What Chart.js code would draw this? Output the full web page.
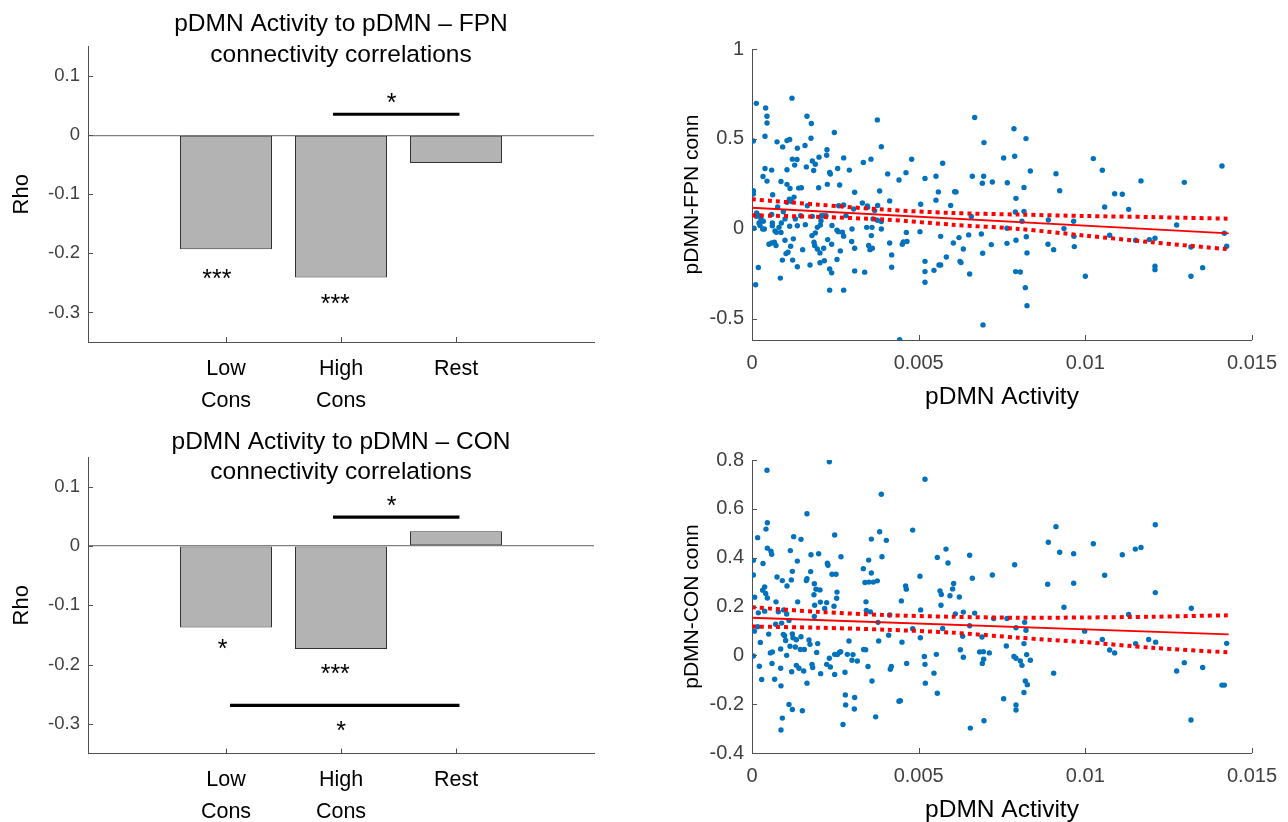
<!DOCTYPE html>
<html><head><meta charset="utf-8">
<script src="https://cdn.jsdelivr.net/npm/chart.js@4.4.1/dist/chart.umd.min.js"></script>
<style>
html,body{margin:0;padding:0;background:#fff}
body{width:1288px;height:822px;position:relative;overflow:hidden}
canvas{position:absolute;display:block}
</style></head><body>
<canvas id="c1" width="640" height="420" style="left:0;top:0"></canvas>
<canvas id="c2" width="648" height="420" style="left:640px;top:0"></canvas>
<canvas id="c3" width="640" height="414" style="left:0;top:420px"></canvas>
<canvas id="c4" width="648" height="410" style="left:640px;top:420px"></canvas>
<script>
// ---------------- DATA ----------------
const categories = [['Low','Cons'],['High','Cons'],['Rest']];
const rhoFPN = [-0.193, -0.241, -0.047];
const rhoCON = [-0.1374, -0.1737, 0.0246];
const barTicksY = [0.1, 0, -0.1, -0.2, -0.3];
const titleFPN = ['pDMN Activity to pDMN \u2013 FPN', 'connectivity correlations'];
const titleCON = ['pDMN Activity to pDMN \u2013 CON', 'connectivity correlations'];
// significance bars: [xStart, xEnd, y]
const sigFPN = [[1.93, 3.03, 0.0354]];
const sigCON = [[1.93, 3.03, 0.0486], [1.035, 3.03, -0.2687]];
// star labels: [x, y, text]
const starsFPN = [[0.92, -0.2326, '***'], [1.95, -0.2747, '***'], [2.44, 0.065, '*']];
const starsCON = [[0.97, -0.163, '*'], [1.95, -0.2056, '***'], [2.44, 0.078, '*'], [2.0, -0.3017, '*']];

const scatterTicksX = [0, 0.005, 0.01, 0.015];
const fpnTicksY = [1, 0.5, 0, -0.5];
const conTicksY = [0.8, 0.6, 0.4, 0.2, 0, -0.2, -0.4];

const fpnPoints = [
[0.00013,0.698],[0.0012,0.727],[0.00041,0.672],[0.00045,0.626],[0.00045,0.589],[0.00039,0.515],[0.00004,0.489],[0.00165,0.626],[0.00178,0.586],[0.00247,0.536],
[0.00075,0.484],[0.00105,0.491],[0.00113,0.497],[0.00092,0.456],[0.00136,0.449],[0.00159,0.464],[0.00177,0.504],[0.00225,0.44],[0.00224,0.41],[0.00201,0.399],
[0.00121,0.388],[0.00135,0.386],[0.00128,0.355],[0.00181,0.378],[0.0019,0.36],[0.00163,0.345],[0.00185,0.325],[0.00105,0.329],[0.00039,0.336],[0.00059,0.327],
[0.00033,0.292],[0.00045,0.266],[0.00087,0.264],[0.00105,0.248],[0.00114,0.225],[0.0014,0.227],[0.00148,0.229],[0.00126,0.177],[0.002,0.229],[0.00226,0.248],
[0.00233,0.314],[0.00235,0.305],[0.00257,0.336],[0.00275,0.395],[0.00292,0.327],[0.00263,0.244],[0.00004,0.212],[0.00004,0.194],[0.00334,0.37],[0.00357,0.388],
[0.00062,0.19],[0.00077,0.122],[0.00094,0.096],[0.00105,0.148],[0.00112,0.166],[0.00119,0.153],[0.00166,0.129],[0.00181,0.07],[0.00207,0.046],[0.00215,0.074],
[0.0026,0.129],[0.00275,0.133],[0.00305,0.111],[0.00347,0.12],[0.00013,0.07],
[0.00014,0.089],[0.00022,0.074],[0.00027,0.056],[0.00034,0.043],[0.00024,0.019],[0.00006,0.004],[0.00037,0.0],[0.00059,0.081],[0.00061,0.033],[0.00069,-0.011],
[0.00081,0.009],[0.00088,0.033],[0.00099,0.056],[0.00087,-0.019],[0.00113,0.015],[0.0013,0.056],[0.00146,0.074],[0.0016,0.024],[0.00196,0.009],[0.00208,0.074],
[0.00222,0.074],[0.0024,0.019],[0.00259,-0.015],[0.00282,0.074],
[0.00021,0.033],[0.00032,0.0],[0.00061,0.018],[0.00073,-0.018],[0.00136,0.018],[0.0018,-0.037],[0.0019,-0.022],[0.00205,0.022],[0.00255,-0.007],[0.00271,-0.018],
[0.00275,-0.04],[0.003,0.0],[0.00299,-0.07],[0.0035,-0.092],[0.00354,-0.115],[0.00051,-0.085],[0.00059,-0.078],[0.00067,-0.074],[0.00072,-0.092],[0.00099,-0.063],
[0.00108,-0.129],[0.00102,-0.137],[0.00116,-0.096],[0.00124,-0.055],[0.00091,-0.173],[0.00122,-0.173],[0.00136,-0.21],[0.00152,-0.115],[0.00174,-0.2],[0.00186,-0.074],
[0.00188,-0.092],[0.00196,-0.111],[0.00204,-0.133],[0.00204,-0.188],[0.00215,-0.107],[0.00217,-0.177],[0.00227,-0.059],[0.00239,-0.085],[0.00233,-0.222],[0.00239,-0.244],
[0.00255,-0.17],[0.00265,-0.122],[0.00308,-0.233],[0.00338,-0.24],[0.00019,-0.214],[0.00011,-0.31],[0.00085,-0.273],[0.00233,-0.34],[0.00275,-0.34],
[0.00376,0.606],[0.00388,0.457],[0.00407,0.306],[0.00441,0.272],[0.00462,0.313],[0.00479,0.387],[0.00383,0.211],[0.00413,0.156],[0.00346,0.128],[0.00368,0.102],
[0.00363,0.056],[0.0036,0.009],[0.00358,-0.037],[0.00388,0.041],[0.00388,0.0],[0.00413,-0.078],[0.00419,-0.144],[0.00419,-0.213],[0.00451,-0.085],[0.00454,-0.072],
[0.00465,-0.07],[0.00463,-0.019],[0.00504,-0.015],[0.00506,0.137],[0.00519,-0.18],[0.00519,-0.237],[0.00519,-0.296],[0.00519,0.281],[0.00546,-0.23],[0.00561,-0.2],
[0.00566,-0.2],[0.00566,-0.041],[0.00583,-0.156],[0.00596,0.131],[0.00604,-0.078],[0.00621,-0.048],[0.00624,-0.18],[0.00627,-0.187],[0.00634,-0.111],[0.00653,-0.25],
[0.0065,-0.033],[0.00658,0.069],[0.00668,0.619],[0.00661,0.293],[0.00695,0.293],[0.00691,0.254],[0.00696,0.48],[0.00692,-0.135],[0.00693,-0.533],[0.00688,-0.028],
[0.00718,-0.087],[0.00721,0.261],[0.00443,-0.615],[0.00552,0.293],[0.00559,0.206],[0.00572,0.365],[0.00608,0.207],[0.00612,0.206],[0.00308,0.204],[0.00331,0.144],
[0.00308,-0.107],[0.00344,0.009],[0.00361,-0.107],[0.00376,0.048],[0.00377,0.13],[0.00552,0.16],
[0.00786,0.557],[0.00822,0.502],[0.00755,0.394],[0.00788,0.404],[0.00835,0.322],[0.00766,0.257],[0.00816,0.231],[0.00792,0.17],[0.0079,0.094],[0.00816,0.098],
[0.0081,0.043],[0.00765,0.004],[0.00765,-0.08],[0.00792,-0.063],[0.00823,-0.043],[0.00825,-0.133],[0.00791,-0.237],[0.00805,-0.239],[0.0082,-0.326],[0.00825,-0.426],
[0.00912,0.307],[0.00923,0.213],[0.00889,0.05],[0.00936,0.002],[0.00888,-0.085],[0.00905,-0.115],[0.00965,0.043],[0.00966,-0.041],[0.00967,-0.098],[0.01,-0.263],
[0.01024,0.391],[0.01051,0.326],[0.01058,0.122],[0.01073,-0.035],[0.01088,0.196],[0.01111,0.193],[0.0113,0.109],[0.01151,-0.063],[0.01167,0.267],[0.01192,-0.059],
[0.01209,-0.052],[0.01209,-0.207],[0.01209,-0.226],[0.01274,0.022],[0.01297,0.259],[0.01317,-0.1],[0.01352,-0.215],[0.01317,-0.263],[0.0141,0.35],[0.01417,-0.024],[0.01424,-0.096]
];

const conPoints = [
[0.00232,0.793],[0.00045,0.758],[0.00519,0.721],[0.00388,0.66],[0.00165,0.58],[0.00046,0.543],[0.00042,0.517],[0.00017,0.482],[0.00248,0.493],[0.00482,0.513],
[0.00383,0.506],[0.00403,0.471],[0.00358,0.476],[0.00125,0.486],[0.00147,0.475],[0.00046,0.439],[0.00057,0.426],[0.00059,0.414],[0.00115,0.429],[0.00177,0.412],
[0.002,0.416],[0.00267,0.404],[0.0039,0.404],[0.00004,0.389],[0.00033,0.376],[0.00136,0.386],[0.00226,0.377],[0.00228,0.369],[0.0035,0.39],[0.00334,0.355],
[0.00358,0.337],[0.00121,0.344],[0.00176,0.343],[0.00004,0.329],[0.00075,0.321],[0.00091,0.306],[0.00118,0.309],[0.00163,0.306],[0.00165,0.314],[0.00105,0.284],
[0.0024,0.332],[0.00252,0.332],[0.00339,0.298],[0.00351,0.3],[0.00364,0.3],[0.00376,0.305],[0.00187,0.293],[0.00192,0.271],[0.00204,0.268],[0.00186,0.248],
[0.00032,0.267],[0.00038,0.28],[0.00041,0.253],[0.00046,0.235],[0.00008,0.238],[0.00072,0.219],[0.00137,0.219],[0.00188,0.205],[0.00205,0.218],[0.00224,0.216],
[0.00255,0.259],[0.00254,0.234],[0.00246,0.201],[0.00218,0.192],[0.00342,0.219],[0.00343,0.184],[0.00448,0.223],[0.00461,0.284],[0.00463,0.271],[0.00504,0.324],
[0.00556,0.401],[0.00588,0.378],[0.00582,0.435],[0.00653,0.41],[0.00661,0.316],[0.00721,0.329],[0.00564,0.264],[0.00568,0.249],[0.00594,0.244],[0.00605,0.294],
[0.00602,0.272],[0.00622,0.239],[0.00567,0.205],[0.00506,0.186],[0.0061,0.17],[0.00634,0.177],[0.00668,0.173],[0.00355,0.178],[0.00378,0.135],[0.00413,0.165],
[0.0041,0.082],[0.0038,0.059],[0.0045,0.054],[0.00482,0.109],[0.00505,0.072],[0.00517,-0.005],[0.00519,-0.037],[0.0052,-0.114],[0.00464,-0.033],[0.00546,-0.073],
[0.00553,0.004],[0.00556,-0.155],[0.00572,0.11],[0.00625,0.023],[0.00634,-0.008],[0.00632,0.078],[0.00653,0.121],[0.0069,0.075],[0.00683,0.014],[0.00694,0.015],
[0.00691,-0.033],[0.00695,-0.016],[0.00712,0.01],[0.00696,-0.268],[0.00655,-0.298],[0.00418,-0.046],[0.00415,-0.057],[0.00441,-0.188],[0.00445,-0.186],[0.00371,-0.252],
[0.0036,-0.105],[0.00348,-0.046],[0.00341,0.023],[0.00316,-0.023],[0.00303,0.003],[0.00291,0.059],[0.00308,-0.173],[0.00307,-0.22],[0.0028,-0.162],[0.00281,-0.203],
[0.00273,-0.283],[0.00279,-0.069],[0.00262,0.012],[0.00256,0.003],[0.00235,-0.048],[0.00232,-0.012],[0.00224,-0.037],[0.00206,-0.075],[0.00182,-0.05],[0.0018,-0.037],
[0.00174,0.045],[0.00171,0.063],[0.00165,-0.114],[0.00194,0.012],[0.00197,0.048],[0.00187,0.159],[0.00147,0.076],[0.00157,0.024],[0.00151,-0.227],[0.00121,-0.222],
[0.00111,-0.201],[0.00091,-0.257],[0.00087,-0.306],[0.00087,-0.125],[0.00068,-0.098],[0.00022,-0.045],[0.00029,-0.099],[0.0006,-0.033],[0.00055,0.01],[0.00061,0.014],
[0.00025,0.053],[0.00007,0.099],[0.00004,-0.003],[0.00017,0.117],[0.0005,0.087],[0.00071,0.127],[0.00089,0.132],[0.00094,0.086],[0.00101,0.061],[0.00086,0.026],
[0.00104,0.0],[0.00086,-0.053],[0.00119,-0.067],[0.00133,-0.041],[0.00141,-0.053],[0.00155,-0.064],[0.00121,0.088],[0.00123,0.072],[0.00133,0.064],[0.00114,0.037],
[0.00079,0.178],[0.00111,0.143],[0.00104,0.169],[0.00095,0.186],[0.00038,0.181],[0.00019,0.174],
[0.00098,0.08],[0.0013,0.034],[0.00145,0.024],[0.00266,0.015],[0.00248,0.004],[0.00286,0.004],[0.003,-0.02],[0.00335,0.024],[0.00248,-0.078],
[0.00912,0.527],[0.00889,0.463],[0.00923,0.422],[0.00965,0.416],[0.00788,0.371],[0.00887,0.291],[0.00965,0.295],[0.00936,0.197],[0.00725,0.151],[0.00765,0.151],
[0.00792,0.113],[0.00818,0.135],[0.00822,0.103],[0.00816,0.048],[0.00763,0.038],[0.00786,-0.005],[0.00792,-0.012],[0.00805,-0.023],[0.0081,-0.041],[0.00824,0.003],
[0.00835,-0.02],[0.00905,-0.073],[0.0082,-0.105],[0.00826,-0.12],[0.00816,-0.152],[0.00755,-0.178],[0.00792,-0.203],[0.00792,-0.224],[0.01024,0.457],[0.01058,0.328],
[0.00998,0.099],[0.01051,0.065],[0.01073,0.022],[0.01088,0.01],[0.01111,0.412],[0.0113,0.167],[0.0115,0.435],[0.01167,0.442],[0.01151,0.048],[0.0119,0.065],
[0.0121,0.535],[0.0121,0.257],[0.01211,0.054],[0.01274,-0.064],[0.01297,-0.03],[0.01318,0.193],[0.01317,-0.265],[0.01352,-0.05],[0.0141,-0.122],[0.01417,-0.122],[0.01424,0.049]
];

// regression fit line end points and confidence bands
const fitX = [0, 0.0143];
const fpnFitY = [0.118, -0.024];
const conFitY = [0.154, 0.086];
const ciX = [0, 0.002, 0.004, 0.006, 0.008, 0.010, 0.012, 0.0143];
const fpnCiUpper = [0.165, 0.135, 0.107, 0.089, 0.080, 0.072, 0.066, 0.057];
const fpnCiLower = [0.076, 0.067, 0.052, 0.024, 0.000, -0.037, -0.074, -0.113];
const conCiUpper = [0.197, 0.178, 0.165, 0.158, 0.154, 0.155, 0.158, 0.164];
const conCiLower = [0.118, 0.113, 0.105, 0.093, 0.072, 0.054, 0.031, 0.012];

// ---------------- STYLE ----------------
const FONT = '"Liberation Sans", Arial, Helvetica, sans-serif';
const AXIS = '#505050';
const TICKTXT = '#404040';
Chart.defaults.font.family = FONT;
Chart.defaults.animation = false;

function innerTicks(len) {
  return {
    id: 'innerTicks',
    afterDatasetsDraw(chart) {
      const {ctx, chartArea} = chart;
      const xs = chart.scales.x, ys = chart.scales.y;
      ctx.save();
      ctx.strokeStyle = AXIS; ctx.lineWidth = 1;
      ys.ticks.forEach(t => {
        const py = Math.round(ys.getPixelForValue(t.value)) + 0.5;
        ctx.beginPath(); ctx.moveTo(chartArea.left, py); ctx.lineTo(chartArea.left + len, py); ctx.stroke();
      });
      xs.ticks.forEach(t => {
        const px = Math.round(xs.getPixelForValue(t.value)) + 0.5;
        ctx.beginPath(); ctx.moveTo(px, chartArea.bottom); ctx.lineTo(px, chartArea.bottom - len); ctx.stroke();
      });
      ctx.restore();
    }
  };
}

function textLayer(titleLines, titleYs, titleSize, stars, starSize) {
  return {
    id: 'textLayer',
    afterDatasetsDraw(chart) {
      const {ctx, chartArea} = chart;
      const xs = chart.scales.x, ys = chart.scales.y;
      ctx.save();
      ctx.fillStyle = '#000';
      ctx.textAlign = 'center';
      ctx.textBaseline = 'middle';
      ctx.font = titleSize + 'px ' + FONT;
      const cx = (chartArea.left + chartArea.right) / 2;
      titleLines.forEach((t, i) => ctx.fillText(t, cx, titleYs[i]));
      ctx.font = starSize + 'px ' + FONT;
      ctx.textBaseline = 'alphabetic';
      stars.forEach(s => ctx.fillText(s[2], xs.getPixelForValue(s[0]), ys.getPixelForValue(s[1]) + starSize * 0.57));
      ctx.restore();
    }
  };
}

function makeBar(id, values, sig, stars, title, titleYs, pad) {
  const datasets = sig.map(s => ({
    type: 'line',
    data: [{x: s[0], y: s[2]}, {x: s[1], y: s[2]}],
    borderColor: '#000', borderWidth: 3.2, pointRadius: 0, fill: false
  }));
  datasets.push({
    type: 'bar',
    data: values.map((v, i) => ({x: i + 1, y: v})),
    backgroundColor: '#b3b3b3',
    borderColor: '#333',
    borderWidth: 1,
    borderSkipped: false,
    barPercentage: 0.8,
    categoryPercentage: 1.0
  });
  new Chart(document.getElementById(id), {
    type: 'bar',
    data: {datasets},
    options: {
      responsive: false,
      devicePixelRatio: 1,
      layout: {padding: {top: pad.top, right: pad.right, bottom: pad.bottom, left: 0}},
      plugins: {legend: {display: false}, tooltip: {enabled: false}},
      scales: {
        x: {
          type: 'linear', min: -0.2, max: 4.2, offset: false,
          afterBuildTicks: s => { s.ticks = categories.map((c, i) => ({value: i + 1})); },
          ticks: {
            callback: v => categories[Math.round(v) - 1] || '',
            color: '#000', padding: 11, maxRotation: 0, autoSkip: false,
            font: {size: 21.5, lineHeight: 1.49}
          },
          grid: {display: false, drawTicks: false},
          border: {display: true, color: AXIS, width: 1},
          afterFit: s => { s.height = pad.xh; }
        },
        y: {
          min: -0.35, max: 0.15,
          afterBuildTicks: s => { s.ticks = barTicksY.map(v => ({value: v})); },
          ticks: {callback: v => String(v), color: TICKTXT, padding: 8, font: {size: 18.5}},
          grid: {display: true, drawTicks: false, color: c => (c.tick && c.tick.value === 0) ? '#808080' : 'rgba(0,0,0,0)', lineWidth: 1.2},
          border: {display: true, color: AXIS, width: 1},
          title: {display: true, text: 'Rho', color: '#000', font: {size: 22}, padding: {top: 9, bottom: 0}},
          afterFit: s => { s.width = 88; }
        }
      }
    },
    plugins: [innerTicks(5), textLayer(title, titleYs, 24.5, stars, 25)]
  });
}

function makeScatter(id, points, fitY, ciUp, ciLo, yTicks, yMin, yMax, yTitle, pad) {
  const red = '#ff0000';
  const ci = arr => arr.map((v, i) => ({x: ciX[i], y: v}));
  new Chart(document.getElementById(id), {
    type: 'scatter',
    data: {datasets: [
      {data: fitX.map((x, i) => ({x, y: fitY[i]})), showLine: true, borderColor: red, borderWidth: 1.8, pointRadius: 0},
      {data: ci(ciUp), showLine: true, borderColor: red, borderWidth: 4, borderDash: [4, 4], borderCapStyle: 'butt', pointRadius: 0, tension: 0.3},
      {data: ci(ciLo), showLine: true, borderColor: red, borderWidth: 4, borderDash: [4, 4], borderCapStyle: 'butt', pointRadius: 0, tension: 0.3},
      {data: points.map(p => ({x: p[0], y: p[1]})), backgroundColor: '#0072BD', borderWidth: 0, pointRadius: 2.7}
    ]},
    options: {
      responsive: false,
      devicePixelRatio: 1,
      layout: {padding: {top: pad.top, right: pad.right, bottom: pad.bottom, left: 0}},
      plugins: {legend: {display: false}, tooltip: {enabled: false}},
      scales: {
        x: {
          type: 'linear', min: 0, max: 0.015,
          afterBuildTicks: s => { s.ticks = scatterTicksX.map(v => ({value: v})); },
          ticks: {callback: v => String(+v.toFixed(4)), color: TICKTXT, padding: 11, maxRotation: 0, autoSkip: false, font: {size: 20}},
          grid: {display: false, drawTicks: false},
          border: {display: true, color: AXIS, width: 1},
          title: {display: true, text: 'pDMN Activity', color: '#000', font: {size: 24.5}, padding: {top: 0, bottom: 0}},
          afterFit: s => { s.height = 72; }
        },
        y: {
          min: yMin, max: yMax,
          afterBuildTicks: s => { s.ticks = yTicks.map(v => ({value: v})); },
          ticks: {callback: v => String(v), color: TICKTXT, padding: 8, font: {size: 20}},
          grid: {display: false, drawTicks: false},
          border: {display: true, color: AXIS, width: 1},
          title: {display: true, text: yTitle, color: '#000', font: {size: 21}, padding: {top: 40, bottom: 0}},
          afterFit: s => { s.width = 112; }
        }
      }
    },
    plugins: [innerTicks(5)]
  });
}

makeBar('c1', rhoFPN, sigFPN, starsFPN, titleFPN, [24, 55], {top: 46.5, right: 46, bottom: 8, xh: 70});
makeBar('c3', rhoCON, sigCON, starsCON, titleCON, [22, 52], {top: 37, right: 46, bottom: 8.5, xh: 72});
makeScatter('c2', fpnPoints, fpnFitY, fpnCiUpper, fpnCiLower, fpnTicksY, -0.617, 1, 'pDMN-FPN conn', {top: 49, right: 32, bottom: 8});
makeScatter('c4', conPoints, conFitY, conCiUpper, conCiLower, conTicksY, -0.4, 0.8, 'pDMN-CON conn', {top: 40, right: 32, bottom: 5});
</script>
</body></html>
